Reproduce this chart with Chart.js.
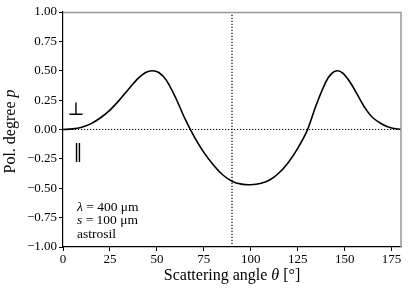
<!DOCTYPE html>
<html>
<head>
<meta charset="utf-8">
<script src="https://cdn.jsdelivr.net/npm/chart.js@4.4.0/dist/chart.umd.min.js"></script>
<style>
html,body{margin:0;padding:0;background:#fff;}
#wrap{width:411px;height:291px;position:relative;}
</style>
</head>
<body>
<div id="wrap"><canvas id="c" width="411" height="291"></canvas></div>
<script>
// Data
const angles = [0,5,10,15,20,25,30,35,40,44,47.5,51,55,60,65,70,75,80,85,90,95,100,105,110,115,120,125,130,135,140,143,146,149,153,157,161,165,170,175,180];
const polDegree = [0,0.005,0.02,0.05,0.1,0.165,0.25,0.345,0.435,0.485,0.5,0.485,0.42,0.27,0.09,-0.065,-0.195,-0.30,-0.385,-0.44,-0.465,-0.47,-0.46,-0.43,-0.37,-0.28,-0.16,-0.01,0.215,0.405,0.475,0.5,0.48,0.4,0.29,0.18,0.1,0.045,0.012,0.002];
const xTicks = [0,25,50,75,100,125,150,175];
const yTicks = [-1,-0.75,-0.5,-0.25,0,0.25,0.5,0.75,1];
const annotationLines = [["λ"," = 400 μm"],["s"," = 100 μm"],["","astrosil"]];

const SERIF = "'Liberation Serif', 'DejaVu Serif', serif";

const curve = angles.map((a,i)=>({x:a,y:polDegree[i]}));

function drawParts(ctx, parts, size, x, y){
  parts.forEach(p=>{ctx.font=(p[1]?"italic ":"")+size+"px "+SERIF; ctx.fillText(p[0],x,y); x+=ctx.measureText(p[0]).width;});
}
function partsWidth(ctx, parts, size){
  let w=0;
  parts.forEach(p=>{ctx.font=(p[1]?"italic ":"")+size+"px "+SERIF; w+=ctx.measureText(p[0]).width;});
  return w;
}

const overlay = {
  id:'overlay',
  afterDraw(chart){
    const ctx = chart.ctx, a = chart.chartArea;
    ctx.save();
    // top/right spines in grey
    ctx.strokeStyle = '#999';
    ctx.lineWidth = 1.5;
    ctx.beginPath();
    ctx.moveTo(a.left, a.top+0.5); ctx.lineTo(a.right, a.top+0.5); ctx.lineTo(a.right, a.bottom);
    ctx.stroke();
    ctx.fillStyle = '#000';
    ctx.textBaseline = 'middle';
    ctx.textAlign='left';
    // x title
    const xt = [["Scattering angle ",false],["θ",true],[" [°]",false]];
    let w = partsWidth(ctx, xt, 16);
    drawParts(ctx, xt, 16, (a.left+a.right)/2 - w/2, 276);
    // y title
    const yt = [["Pol. degree ",false],["p",true]];
    ctx.save();
    ctx.translate(11, (a.top+a.bottom)/2+2);
    ctx.rotate(-Math.PI/2);
    w = partsWidth(ctx, yt, 16);
    drawParts(ctx, yt, 16, -w/2, 0);
    ctx.restore();
    // perpendicular / parallel symbols
    ctx.textAlign='center';
    ctx.font = "18px 'DejaVu Serif', serif";
    ctx.fillText("⊥", 76, 110);
    ctx.fillText("‖", 78, 152);
    // annotation
    ctx.textAlign='left';
    const ys=[207,220.5,234];
    annotationLines.forEach((ln,i)=>{
      drawParts(ctx, [[ln[0],true],[ln[1],false]], 13.5, 77, ys[i]);
    });
    ctx.restore();
  }
};

new Chart(document.getElementById('c'),{
  type:'line',
  data:{datasets:[
    {data:curve,borderColor:'#000',borderWidth:1.6,pointRadius:0,tension:0.3,fill:false,order:0},
    {data:[{x:0,y:0},{x:180,y:0}],borderColor:'#000',borderWidth:1.2,borderDash:[1.2,1.8],pointRadius:0,order:1},
    {data:[{x:90,y:-1},{x:90,y:1}],borderColor:'#000',borderWidth:1.2,borderDash:[1.2,1.8],pointRadius:0,order:1}
  ]},
  options:{
    responsive:false,animation:false,
    layout:{padding:{left:0,right:10,top:12,bottom:0}},
    plugins:{legend:{display:false},tooltip:{enabled:false}},
    scales:{
      x:{type:'linear',min:0,max:180,
        afterBuildTicks(s){s.ticks=xTicks.map(v=>({value:v}));},
        afterFit(s){s.height=44;},
        grid:{drawOnChartArea:false,drawTicks:true,tickLength:4,color:'#000',tickWidth:1},
        border:{display:true,color:'#000',width:1.2},
        ticks:{color:'#000',font:{family:SERIF,size:13},padding:1,maxRotation:0,callback:v=>String(v)}
      },
      y:{type:'linear',min:-1,max:1,
        afterBuildTicks(s){s.ticks=yTicks.map(v=>({value:v}));},
        afterFit(s){s.width=63;},
        grid:{drawOnChartArea:false,drawTicks:true,tickLength:4,color:'#000',tickWidth:1},
        border:{display:true,color:'#000',width:1.2},
        ticks:{color:'#000',font:{family:SERIF,size:13},padding:2,callback:v=>(v<0?'\u2212':'')+Math.abs(v).toFixed(2)}
      }
    }
  },
  plugins:[overlay]
});
</script>
</body>
</html>
